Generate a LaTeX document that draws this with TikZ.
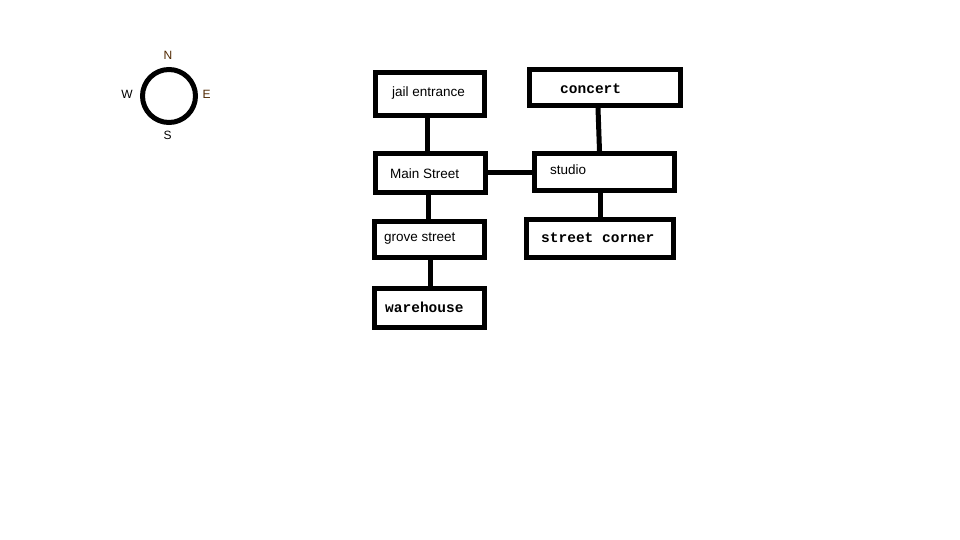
\documentclass[tikz,border=0pt]{standalone}
\usepackage{fontspec}
\newfontfamily\sanslbl{Liberation Sans}
\newfontfamily\monolbl{Liberation Mono}
\begin{document}
\begin{tikzpicture}[x=1pt,y=-1pt,
  box/.style={draw=black,line width=5pt,rectangle,inner sep=0pt},
  conn/.style={draw=black,line width=5pt},
  slbl/.style={anchor=west,inner sep=0pt,font=\sanslbl\fontsize{13.5}{15}\selectfont},
  mlbl/.style={anchor=west,inner sep=0pt,font=\monolbl\bfseries\fontsize{14.5}{16}\selectfont},
  clbl/.style={inner sep=0pt,font=\sanslbl\fontsize{12}{14}\selectfont}]
\useasboundingbox[fill=white] (0,0) rectangle (960,540);
% compass
\node[draw=black,line width=5pt,circle,minimum size=53pt,inner sep=0pt] (compass) at (169,96) {};
\node[clbl,text={rgb,255:red,80;green,40;blue,0}] (cn) at (168,55) {N};
\node[clbl] (cw) at (127,94.5) {W};
\node[clbl,text={rgb,255:red,80;green,40;blue,0}] (ce) at (206.5,94.5) {E};
\node[clbl] (cs) at (167.5,135.5) {S};
% boxes
\node[box,minimum width=109pt,minimum height=43pt] (jail) at (430,94) {};
\node[box,minimum width=151pt,minimum height=36pt] (concert) at (605,87.5) {};
\node[box,minimum width=110pt,minimum height=39pt] (main) at (430.5,173) {};
\node[box,minimum width=140pt,minimum height=37pt] (studio) at (604.5,172) {};
\node[box,minimum width=110pt,minimum height=36pt] (grove) at (429.5,239.5) {};
\node[box,minimum width=147pt,minimum height=38pt] (corner) at (600,238.5) {};
\node[box,minimum width=110pt,minimum height=39pt] (warehouse) at (429.5,308) {};
% labels
\node[slbl] (tjail) at (392,93) {jail entrance};
\node[mlbl] (tconcert) at (560,88.5) {concert};
\node[slbl] (tmain) at (390,173.5) {Main Street};
\node[slbl] (tstudio) at (550,169.5) {studio};
\node[slbl] (tgrove) at (384,238.5) {grove street};
\node[mlbl] (tcorner) at (541,237.5) {street corner};
\node[mlbl] (twarehouse) at (385,307.5) {warehouse};
% connectors
\draw[conn] ([xshift=-3pt]jail.south) -- ([xshift=-3pt]jail.south |- main.north);
\draw[conn] (main.east) -- (main.east -| studio.west);
\draw[conn] ([xshift=-7pt]concert.south) -- ([xshift=-5pt]studio.north);
\draw[conn] ([xshift=-4.5pt]studio.south) -- ([xshift=-4.5pt]studio.south |- corner.north);
\draw[conn] ([xshift=-2pt]main.south) -- ([xshift=-2pt]main.south |- grove.north);
\draw[conn] ([xshift=0.5pt]grove.south) -- ([xshift=0.5pt]grove.south |- warehouse.north);
\end{tikzpicture}
\end{document}
